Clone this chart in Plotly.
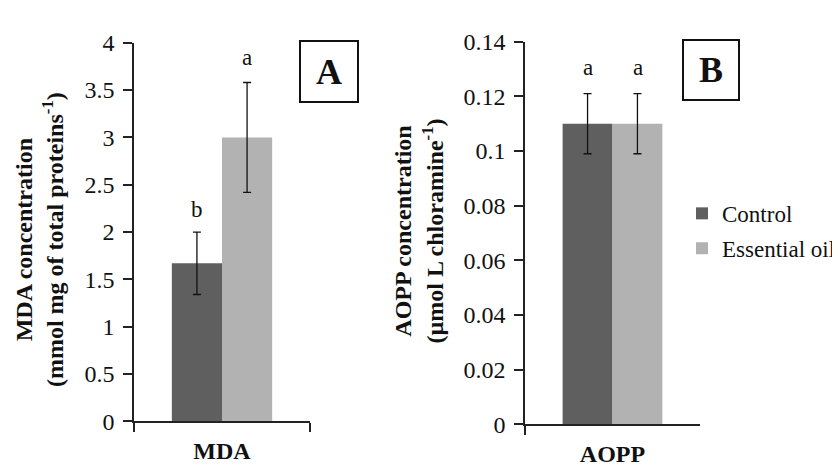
import plotly.graph_objects as go

# ---------------- data ----------------
series_names = ["Control", "Essential oil"]
series_colors = ["#5f5f5f", "#b2b2b2"]

mda_category = ["MDA"]
mda_values = [1.67, 3.00]
mda_errors = [0.33, 0.58]
mda_letters = ["b", "a"]
mda_letter_y = [2.24, 3.84]
mda_tickvals = [0, 0.5, 1, 1.5, 2, 2.5, 3, 3.5, 4]
mda_ticktext = ["0", "0.5", "1", "1.5", "2", "2.5", "3", "3.5", "4"]

aopp_category = ["AOPP"]
aopp_values = [0.11, 0.11]
aopp_errors = [0.011, 0.011]
aopp_letters = ["a", "a"]
aopp_letter_y = [0.1305, 0.1305]
aopp_tickvals = [0, 0.02, 0.04, 0.06, 0.08, 0.1, 0.12, 0.14]
aopp_ticktext = ["0", "0.02", "0.04", "0.06", "0.08", "0.1", "0.12", "0.14"]

FONT = "Liberation Serif, Times New Roman, Times, serif"
W, H = 840, 466

fig = go.Figure()

for i, name in enumerate(series_names):
    fig.add_trace(go.Bar(
        x=mda_category, y=[mda_values[i]], name=name,
        marker=dict(color=series_colors[i], line=dict(width=0)),
        error_y=dict(type="data", array=[mda_errors[i]], color="#111111",
                     thickness=1.3, width=4),
        xaxis="x", yaxis="y", showlegend=False, legendgroup=name,
    ))
for i, name in enumerate(series_names):
    fig.add_trace(go.Bar(
        x=aopp_category, y=[aopp_values[i]], name=name,
        marker=dict(color=series_colors[i], line=dict(width=0)),
        error_y=dict(type="data", array=[aopp_errors[i]], color="#111111",
                     thickness=1.3, width=4),
        xaxis="x2", yaxis="y2", showlegend=True, legendgroup=name,
    ))

axis_common = dict(showline=True, linecolor="#222222", linewidth=1.5,
                   showgrid=False, zeroline=False, ticks="outside",
                   tickcolor="#222222", tickwidth=1.5)

fig.update_layout(
    width=W, height=H,
    margin=dict(l=0, r=0, t=0, b=0),
    paper_bgcolor="white", plot_bgcolor="white",
    font=dict(family=FONT, color="#111111", size=23),
    barmode="group", bargap=0.43, bargroupgap=0,
    xaxis=dict(domain=[126 / W, 302 / W], anchor="y", type="category",
               tickson="boundaries", ticklen=9, ticklabelstandoff=7,
               tickfont=dict(size=24, family=FONT, weight="bold"),
               **axis_common),
    yaxis=dict(domain=[1 - 424 / H, 1 - 23 / H], anchor="x", range=[0, 4],
               tickvals=mda_tickvals, ticktext=mda_ticktext, ticklen=9,
               ticklabelstandoff=4,
               tickfont=dict(size=24, family=FONT), **axis_common),
    xaxis2=dict(domain=[517 / W, 692 / W], anchor="y2", type="category",
                tickson="boundaries", ticklen=9, ticklabelstandoff=7,
                tickfont=dict(size=24, family=FONT, weight="bold"),
                **axis_common),
    yaxis2=dict(domain=[1 - 427 / H, 1 - 22 / H], anchor="x2", range=[0, 0.14],
                tickvals=aopp_tickvals, ticktext=aopp_ticktext, ticklen=9,
                ticklabelstandoff=4,
                tickfont=dict(size=24, family=FONT), **axis_common),
    legend=dict(x=674 / W, y=1 - 181 / H, xanchor="left", yanchor="top",
                font=dict(size=23, family=FONT), tracegroupgap=2,
                itemwidth=30, bgcolor="rgba(0,0,0,0)"),
    showlegend=True,
)

annotations = []
# significance letters
for i, (lt, ly) in enumerate(zip(mda_letters, mda_letter_y)):
    annotations.append(dict(x=mda_category[0], y=ly, xref="x", yref="y",
                            text=lt, showarrow=False, xshift=-25 + 50 * i,
                            font=dict(size=23, family=FONT)))
for i, (lt, ly) in enumerate(zip(aopp_letters, aopp_letter_y)):
    annotations.append(dict(x=aopp_category[0], y=ly, xref="x2", yref="y2",
                            text=lt, showarrow=False, xshift=-25 + 50 * i,
                            font=dict(size=23, family=FONT)))
# y axis titles
annotations.append(dict(
    x=31 / W, y=1 - 232 / H, xref="paper", yref="paper", textangle=-90,
    xanchor="center", yanchor="middle", showarrow=False,
    text="MDA concentration<br>(mmol mg of total proteins<sup>-1</sup>)",
    font=dict(size=24, family=FONT, weight="bold")))
annotations.append(dict(
    x=411 / W, y=1 - 223 / H, xref="paper", yref="paper", textangle=-90,
    xanchor="center", yanchor="middle", showarrow=False,
    text="AOPP concentration<br>(µmol L chloramine<sup>-1</sup>)",
    font=dict(size=24, family=FONT, weight="bold")))
# panel labels
annotations.append(dict(
    x=321 / W, y=1 - 53.5 / H, xref="paper", yref="paper", text="A",
    showarrow=False, xanchor="center", yanchor="middle",
    width=56, height=59, bordercolor="#111111", borderwidth=2, borderpad=0,
    font=dict(size=36, family=FONT, weight="bold")))
annotations.append(dict(
    x=703 / W, y=1 - 52 / H, xref="paper", yref="paper", text="B",
    showarrow=False, xanchor="center", yanchor="middle",
    width=54, height=58, bordercolor="#111111", borderwidth=2, borderpad=0,
    font=dict(size=36, family=FONT, weight="bold")))
fig.update_layout(annotations=annotations)

fig.write_html("out.html")
